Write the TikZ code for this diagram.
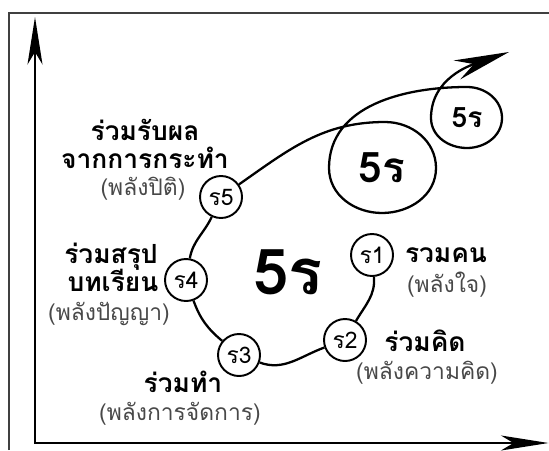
\documentclass[tikz,border=0pt]{standalone}
\usepackage{fontspec}
\setmainfont[Script=Thai]{Loma}
\usetikzlibrary{arrows.meta}
\definecolor{powergrey}{HTML}{484848}

\begin{document}
\begin{tikzpicture}[
    sr/.style={draw, circle, line width=1.1pt, minimum size=0.84cm, inner sep=0pt, font=\fontsize{13}{13}\selectfont},
    head/.style={anchor=base, font=\bfseries\fontsize{15}{15}\selectfont},
    power/.style={anchor=base, text=powergrey, font=\fontsize{13}{13}\selectfont},
    ring/.style={line width=1.3pt}
  ]
  \useasboundingbox (0,0) rectangle (10.98,9);
  \draw[line width=1pt, black!75] (0.18,0) -- (0.18,8.74) -- (10.98,8.74);

  \coordinate (O) at (0.70,0.14);
  \coordinate (ytop) at (0.70,8.66);
  \coordinate (xend) at (10.97,0.14);
  \draw[line width=1.3pt, {Stealth[length=0.95cm, width=0.3cm, inset=0.25cm]}-{Stealth[length=0.95cm, width=0.3cm, inset=0.25cm]}] (ytop) -- (O) -- (xend);

  \node[sr] (r1) at (7.44, 3.90) {ร1};
  \node[sr] (r2) at (6.90, 2.20) {ร2};
  \node[sr] (r3) at (4.78, 1.90) {ร3};
  \node[sr] (r4) at (3.72, 3.40) {ร4};
  \node[sr] (r5) at (4.42, 5.06) {ร5};
  \draw[ring] (r1) to[out=-85, in=60] (r2);
  \draw[ring] (r2) to[out=-160, in=-20] (r3);
  \draw[ring] (r3) to[out=140, in=-70] (r4);
  \draw[ring] (r4) to[out=80, in=-115] (r5);

  \node[font=\bfseries\fontsize{36}{36}\selectfont] (big) at (5.76, 3.56) {5ร};
  \node[font=\bfseries\fontsize{24}{24}\selectfont] (mid) at (7.64, 5.64) {5ร};
  \node[font=\bfseries\fontsize{16}{16}\selectfont] (small) at (9.34, 6.64) {5ร};

  % loops of the spiral
  \coordinate (mT) at (7.70, 6.56);
  \coordinate (mR) at (8.72, 5.64);
  \coordinate (mB) at (7.64, 4.74);
  \coordinate (mL) at (6.58, 5.64);
  \coordinate (sT) at (9.34, 7.26);
  \coordinate (sR) at (10.04, 6.64);
  \coordinate (sB) at (9.34, 6.04);
  \coordinate (sL) at (8.62, 6.64);
  \coordinate (tip) at (10.18, 7.96);
  \draw[ring, -{Stealth[length=1.1cm, width=0.4cm]}] (r5) to[out=35, in=180] (mT)
    to[out=0, in=90] (mR) to[out=-90, in=0] (mB) to[out=180, in=-90] (mL)
    to[out=90, in=180] (sT) to[out=0, in=90] (sR) to[out=-90, in=0] (sB)
    to[out=180, in=-90] (sL) to[out=90, in=199] (tip);

  \node[head] (t1) at (8.92, 3.76) {รวมคน};
  \node[power] (p1) at (8.94, 3.16) {(พลังใจ)};
  \node[head] (t2) at (8.50, 1.98) {ร่วมคิด};
  \node[power] (p2) at (8.54, 1.42) {(พลังความคิด)};
  \node[head] (t3) at (3.66, 1.16) {ร่วมทำ};
  \node[power] (p3) at (3.60, 0.60) {(พลังการจัดการ)};
  \node[head] (t4a) at (2.22, 3.74) {ร่วมสรุป};
  \node[head] (t4b) at (2.26, 3.17) {บทเรียน};
  \node[power] (p4) at (2.18, 2.60) {(พลังปัญญา)};
  \node[head] (t5a) at (2.90, 6.20) {ร่วมรับผล};
  \node[head] (t5b) at (2.90, 5.64) {จากการกระทำ};
  \node[power] (p5) at (2.86, 5.10) {(พลังปิติ)};
\end{tikzpicture}
\end{document}
